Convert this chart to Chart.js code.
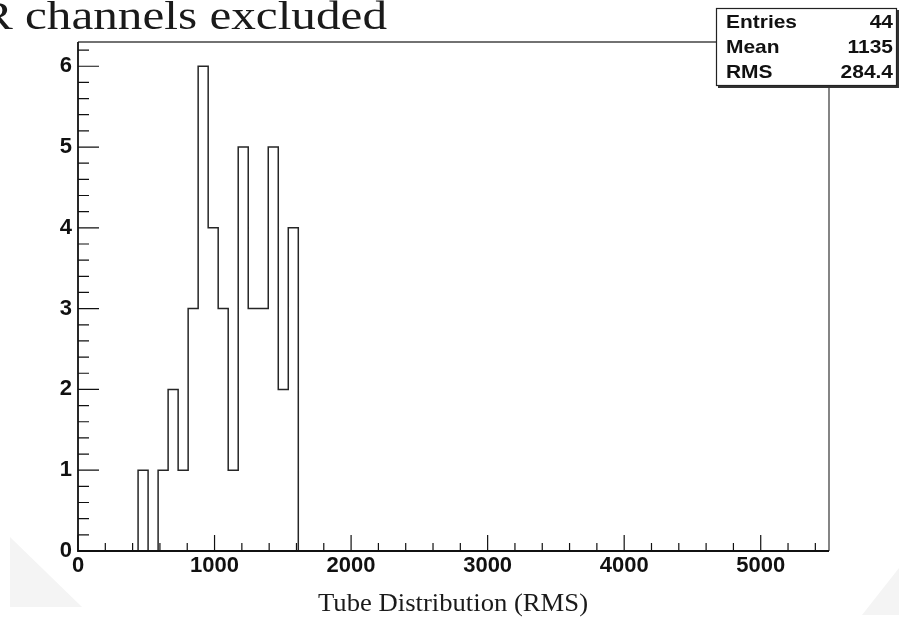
<!DOCTYPE html>
<html>
<head>
<meta charset="utf-8">
<script src="https://cdn.jsdelivr.net/npm/chart.js@4.4.1/dist/chart.umd.min.js"></script>
<style>
  body { margin: 0; background: #fff; }
  #wrap { width: 899px; height: 620px; position: relative; }
</style>
</head>
<body>
<div id="wrap"><canvas id="histo"></canvas></div>
<script>
// histogram definition (ROOT style, 75 bins over 0..5500)
const xMin = 0;
const xMax = 5500;
const nBins = 75;
const firstBin = 6;
// bin contents, starting at firstBin
const counts = [1, 0, 1, 2, 1, 3, 6, 4, 3, 1, 5, 3, 3, 5, 2, 4];
const yMax = 6.3;

const xTickValues = [0, 1000, 2000, 3000, 4000, 5000];
const yTickValues = [0, 1, 2, 3, 4, 5, 6];

const chartTitle = 'R channels excluded';
const xTitle = 'Tube Distribution (RMS)';
const statLabels = ['Entries', 'Mean', 'RMS'];
const statValues = ['44', '1135', '284.4'];

// build step outline from the bin contents
const binW = (xMax - xMin) / nBins;
const points = [{ x: xMin, y: 0 }];
counts.forEach((c, i) => points.push({ x: xMin + (firstBin + i) * binW, y: c }));
points.push({ x: xMin + (firstBin + counts.length) * binW, y: 0 });
points.push({ x: xMax, y: 0 });

// draws text squeezed/stretched to a given width
function fitText(ctx, text, x, y, font, width, align) {
    ctx.save();
    ctx.font = font;
    const w = ctx.measureText(text).width;
    const sx = width ? width / w : 1;
    let x0 = x;
    if (align === 'right') x0 = x - w * sx;
    if (align === 'center') x0 = x - w * sx / 2;
    ctx.translate(x0, y);
    ctx.scale(sx, 1);
    ctx.textAlign = 'left';
    ctx.textBaseline = 'alphabetic';
    ctx.fillText(text, 0, 0);
    ctx.restore();
}

const backdrop = {
    id: 'backdrop',
    beforeDraw(chart) {
        const ctx = chart.ctx;
        ctx.save();
        ctx.fillStyle = '#f4f4f4';
        ctx.beginPath();
        ctx.moveTo(10, 537); ctx.lineTo(10, 607); ctx.lineTo(82, 607);
        ctx.closePath(); ctx.fill();
        ctx.beginPath();
        ctx.moveTo(899, 568); ctx.lineTo(899, 615); ctx.lineTo(862, 615);
        ctx.closePath(); ctx.fill();
        ctx.restore();
    }
};

const frame = {
    id: 'frame',
    afterDatasetsDraw(chart) {
        const { ctx, chartArea: a, scales } = chart;
        const xs = scales.x, ys = scales.y;
        ctx.save();
        // top and right sides of the frame
        ctx.strokeStyle = '#444';
        ctx.lineWidth = 1.3;
        ctx.beginPath();
        ctx.moveTo(a.left, a.top); ctx.lineTo(a.right, a.top); ctx.lineTo(a.right, a.bottom);
        ctx.stroke();
        // axes
        ctx.strokeStyle = '#111';
        ctx.lineWidth = 1.8;
        ctx.beginPath();
        ctx.moveTo(a.left, a.top); ctx.lineTo(a.left, a.bottom); ctx.lineTo(a.right, a.bottom);
        ctx.stroke();
        // inward ticks
        ctx.lineWidth = 1.2;
        ctx.beginPath();
        for (let v = 0; v <= xMax; v += 200) {
            const px = xs.getPixelForValue(v);
            const len = v % 1000 === 0 ? 16 : 8;
            ctx.moveTo(px, a.bottom); ctx.lineTo(px, a.bottom - len);
        }
        for (let k = 0; k * 0.2 <= yMax; k++) {
            const py = ys.getPixelForValue(k * 0.2);
            const len = k % 5 === 0 ? 21 : 11;
            ctx.moveTo(a.left, py); ctx.lineTo(a.left + len, py);
        }
        ctx.stroke();
        ctx.restore();
    },
    afterDraw(chart) {
        const ctx = chart.ctx;
        ctx.save();
        ctx.fillStyle = '#1a1a1a';
        // pad title (partly off the left edge, as in the slide)
        ctx.font = '39px "Liberation Serif", "Times New Roman", serif';
        const wR = ctx.measureText('R ').width;
        const wRest = ctx.measureText('channels excluded').width;
        const sx = 362 / wRest;
        fitText(ctx, chartTitle, 25 - wR * sx, 29, ctx.font, ctx.measureText(chartTitle).width * sx);
        // axis title
        fitText(ctx, xTitle, (318 + 588) / 2, 611, '25px "Liberation Serif", "Times New Roman", serif', 270, 'center');

        // statistics box
        const bx = 716, by = 8, bw = 181, bh = 78;
        ctx.fillStyle = '#333';
        ctx.fillRect(bx + 2, by + 2, bw, bh);
        ctx.fillStyle = '#fff';
        ctx.fillRect(bx, by, bw, bh);
        ctx.strokeStyle = '#222';
        ctx.lineWidth = 1.2;
        ctx.strokeRect(bx + 0.5, by + 0.5, bw - 1, bh - 1);
        ctx.fillStyle = '#111';
        const sf = 'bold 19px "Liberation Sans", Arial, sans-serif';
        ctx.font = sf;
        const ss = 71 / ctx.measureText('Entries').width;
        statLabels.forEach((lab, i) => {
            const y = 28 + i * 25;
            ctx.font = sf;
            fitText(ctx, lab, 726, y, sf, ctx.measureText(lab).width * ss);
            ctx.font = sf;
            fitText(ctx, statValues[i], 893, y, sf, ctx.measureText(statValues[i]).width * ss, 'right');
        });
        ctx.restore();
    }
};

const tickFont = { family: '"Liberation Sans", Arial, sans-serif', size: 22, weight: 'bold' };

new Chart(document.getElementById('histo'), {
    type: 'line',
    data: {
        datasets: [{
            data: points,
            stepped: 'before',
            borderColor: '#262626',
            borderWidth: 1.5,
            pointRadius: 0,
            fill: false,
            tension: 0
        }]
    },
    options: {
        responsive: true,
        maintainAspectRatio: false,
        animation: false,
        events: [],
        layout: { padding: { top: 42, right: 70, left: 0, bottom: 0 } },
        plugins: { legend: { display: false }, tooltip: { enabled: false } },
        scales: {
            x: {
                type: 'linear',
                min: xMin,
                max: xMax,
                grid: { display: false, drawTicks: false },
                border: { display: false },
                afterBuildTicks: s => { s.ticks = xTickValues.map(v => ({ value: v })); },
                afterFit: s => { s.height = 69; },
                ticks: { font: tickFont, color: '#111', padding: 2, maxRotation: 0, autoSkip: false,
                         callback: v => String(v) }
            },
            y: {
                type: 'linear',
                min: 0,
                max: yMax,
                grid: { display: false, drawTicks: false },
                border: { display: false },
                afterBuildTicks: s => { s.ticks = yTickValues.map(v => ({ value: v })); },
                afterFit: s => { s.width = 78; },
                ticks: { font: tickFont, color: '#111', padding: 6, callback: v => String(v) }
            }
        }
    },
    plugins: [backdrop, frame]
});
</script>
</body>
</html>
